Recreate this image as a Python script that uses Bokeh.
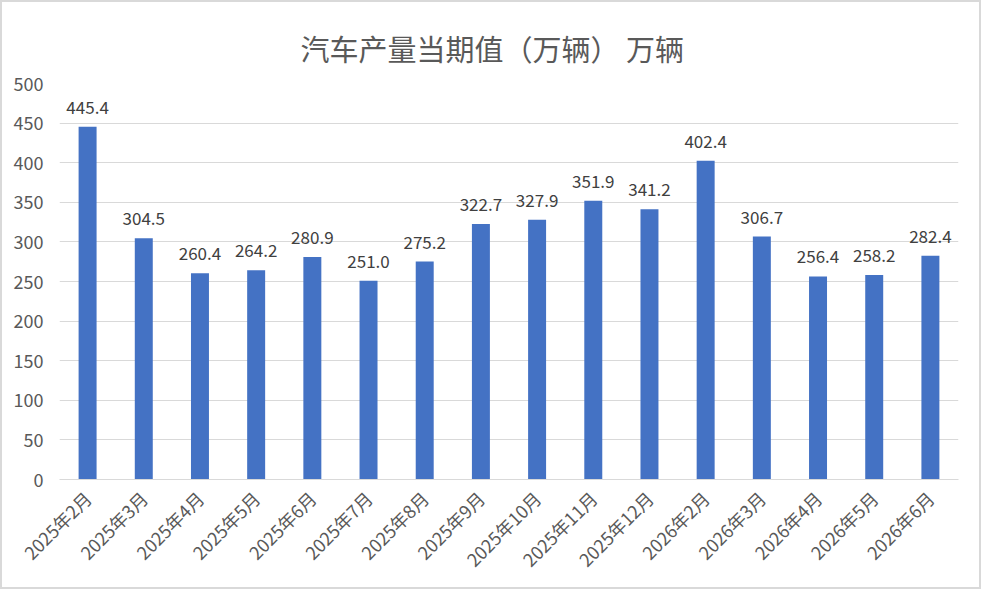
from math import pi

from bokeh.plotting import figure
from bokeh.models import ColumnDataSource, Range1d, FactorRange, SingleIntervalTicker, Title
from bokeh.core.properties import value
from bokeh.embed import file_html
from bokeh.resources import INLINE

months = ['2025年2月', '2025年3月', '2025年4月', '2025年5月', '2025年6月',
          '2025年7月', '2025年8月', '2025年9月', '2025年10月', '2025年11月',
          '2025年12月', '2026年2月', '2026年3月', '2026年4月', '2026年5月',
          '2026年6月']
output = [445.4, 304.5, 260.4, 264.2, 280.9, 251.0, 275.2, 322.7, 327.9,
          351.9, 341.2, 402.4, 306.7, 256.4, 258.2, 282.4]

FONT = "Noto Sans CJK SC"
BAR_COLOR = '#4472C4'
TEXT_COLOR = '#595959'

source = ColumnDataSource(data=dict(
    month=months,
    output=output,
    label=['%.1f' % v for v in output],
))

p = figure(x_range=FactorRange(*months),
           y_range=Range1d(0, 500),
           width=981, height=589,
           output_backend="svg",
           toolbar_location=None,
           min_border_left=57, min_border_right=25,
           min_border_top=81, min_border_bottom=112)

# title is centred on the whole chart, not the plot area
p.title = Title(text='汽车产量当期值（万辆） 万辆', align='left',
                text_font=FONT, text_font_size='29px',
                text_font_style='normal', text_color=TEXT_COLOR,
                standoff=30, offset=241)

p.vbar(x='month', top='output', width=0.32, source=source,
       fill_color=BAR_COLOR, line_color=None)

# value labels above bars
p.text(x='month', y='output', text='label', source=source,
       text_align='center', text_baseline='bottom', y_offset=-13,
       text_font=value(FONT), text_font_size='17px', text_color='#404040')

p.yaxis.ticker = SingleIntervalTicker(interval=50)
p.yaxis.axis_line_color = None
p.yaxis.major_tick_line_color = None
p.yaxis.minor_tick_line_color = None
p.yaxis.major_label_text_font = FONT
p.yaxis.major_label_text_font_size = '18px'
p.yaxis.major_label_text_color = TEXT_COLOR
p.yaxis.major_label_standoff = 10

p.xaxis.axis_line_color = '#d9d9d9'
p.xaxis.major_tick_line_color = None
p.xaxis.minor_tick_line_color = None
p.xaxis.major_label_orientation = pi / 4
p.xaxis.major_label_text_font = FONT
p.xaxis.major_label_text_font_size = '18px'
p.xaxis.major_label_text_color = TEXT_COLOR
p.xaxis.major_label_standoff = 9

p.xgrid.grid_line_color = None
p.ygrid.grid_line_color = '#d9d9d9'
p.outline_line_color = None
p.styles = {"border": "2px solid #d9d9d9"}

open("out.html", "w").write(file_html(p, INLINE))
